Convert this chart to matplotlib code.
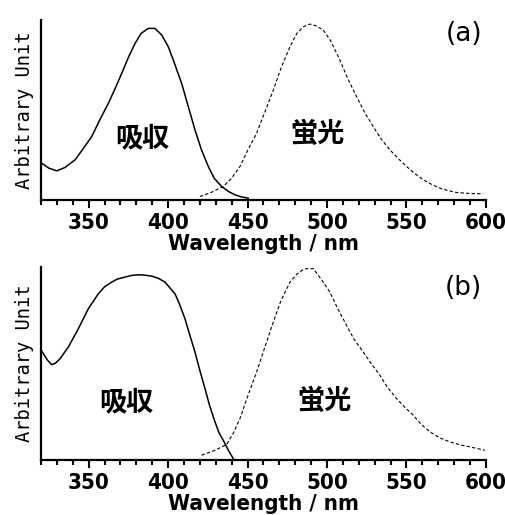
import matplotlib
matplotlib.use('Agg')
import matplotlib.pyplot as plt
from matplotlib import font_manager as fm
from matplotlib.ticker import MultipleLocator

# panel (a)
abs_a_nm = [320.4, 325, 329.9, 335, 341.4, 346, 351.9, 357, 362.4, 367, 370.8,
            375, 379.2, 383, 387.5, 391.7, 396, 400.1, 404, 408.5, 413, 416.9,
            421, 425.3, 429, 433.7, 438, 442.1, 446, 450.4]
abs_a_val = [110, 95, 87, 97, 120, 150, 190, 240, 290, 338, 380, 428, 470, 500,
             515, 515, 495, 460, 410, 350, 275, 210, 150, 100, 65, 40, 25, 15,
             9, 5]
fl_a_nm = [420, 427, 434.7, 440, 445.2, 450, 455.7, 461, 466.2, 471, 476.7,
           481, 485.1, 489.3, 493, 497.6, 502, 508.1, 513, 518.6, 524, 529.1,
           534, 539.6, 545, 550.1, 555, 560.6, 566, 571.1, 576, 581.6, 590,
           598.3]
fl_a_val = [10, 22, 40, 65, 100, 148, 200, 265, 330, 395, 460, 500, 520, 528,
            523, 510, 480, 420, 365, 310, 260, 220, 183, 150, 123, 100, 80, 60,
            46, 35, 28, 22, 19, 18]

# panel (b)
abs_b_nm = [320, 321.5, 324, 326.7, 329, 332, 337.2, 343.5, 349.8, 356.1, 360,
            364.5, 368, 372.9, 377, 381.2, 385, 389.6, 394, 398, 404.3, 407,
            410.6, 413, 416.9, 420, 423.2, 426, 429.5, 432, 435.8, 438, 441]
abs_b_val = [330, 319, 300, 286, 290, 304, 339, 394, 454, 499, 520, 534, 543,
             549, 554, 556, 555, 552, 545, 534, 499, 470, 424, 385, 324, 268,
             214, 165, 114, 82, 49, 28, 4]
fl_b_nm = [421.1, 429, 436.8, 441, 445.2, 450, 455.7, 461, 466.2, 471, 476.7,
           481, 485.1, 488, 491.4, 496, 501.8, 507, 512.3, 517, 522.8, 528,
           533.3, 538, 543.8, 549, 554.3, 559, 564.8, 571, 577.4, 584, 590,
           599.4]
fl_b_val = [14, 28, 46, 80, 124, 190, 264, 340, 414, 478, 534, 558, 572, 575,
            574, 545, 504, 452, 404, 362, 324, 288, 254, 218, 184, 158, 134,
            108, 84, 66, 54, 45, 39, 29]

# axes rect, ylim top, tag, label positions (data coords)
panels = [
    ([0.0812, 0.612, 0.881, 0.349], abs_a_nm, abs_a_val, fl_a_nm, fl_a_val,
     540, '(a)', (383.6, 186), (493.7, 198), (586, 498)),
    ([0.0812, 0.107, 0.881, 0.375], abs_b_nm, abs_b_val, fl_b_nm, fl_b_val,
     580, '(b)', (373.5, 174), (498.7, 177), (586, 516)),
]


def pick_narrow():
    names = {f.name for f in fm.fontManager.ttflist}
    if 'Liberation Sans Narrow' in names:
        return dict(family='Liberation Sans Narrow'), 16, 16
    for fam in ['DejaVu Sans', 'Noto Sans', 'Open Sans', 'Roboto']:
        fp = fm.FontProperties(family=fam, stretch='condensed', weight='bold')
        path = fm.findfont(fp, fallback_to_default=False)
        if 'ondensed' in path or 'arrow' in path:
            return dict(family=fam, stretch='condensed'), 16, 16
    return dict(family='Liberation Sans'), 14, 12


narrow, tsize, lsize = pick_narrow()
cjk = ['Noto Sans CJK JP', 'DejaVu Sans']

fig = plt.figure(figsize=(5.05, 5.15), dpi=100)
for rect, anm, aval, fnm, fval, ytop, tag, p_abs, p_fl, p_tag in panels:
    ax = fig.add_axes(rect)
    ax.plot(anm, aval, color='black', lw=1.1)
    ax.plot(fnm, fval, color='black', lw=0.8, linestyle=(0, (3, 2)))
    ax.set_xlim(320, 600)
    ax.set_ylim(0, ytop)
    for s in ['top', 'right']:
        ax.spines[s].set_visible(False)
    for s in ['left', 'bottom']:
        ax.spines[s].set_linewidth(1.6)
    ax.set_yticks([])
    ax.xaxis.set_major_locator(MultipleLocator(50))
    ax.xaxis.set_minor_locator(MultipleLocator(10))
    ax.tick_params(axis='x', which='major', length=6, width=1.5, pad=3.5)
    ax.tick_params(axis='x', which='minor', length=3.5, width=1.5)
    for lab in ax.get_xticklabels():
        lab.set(fontweight='bold', fontsize=tsize, **narrow)
    ax.set_xlabel('Wavelength / nm', fontweight='bold', fontsize=lsize,
                  **narrow)
    h = rect[3] * 515
    ax.xaxis.set_label_coords(0.5, -34 / h)
    ax.set_ylabel('Arbitrary Unit', family='DejaVu Sans Mono', fontsize=13.5,
                  labelpad=5)
    ax.text(p_abs[0], p_abs[1], '吸収', family=cjk, fontsize=19.5,
            fontweight='bold', ha='center', va='center')
    ax.text(p_fl[0], p_fl[1], '蛍光', family=cjk, fontsize=19.5,
            fontweight='bold', ha='center', va='center')
    ax.text(p_tag[0], p_tag[1], tag, family='DejaVu Sans', fontsize=19,
            ha='center', va='center')

fig.savefig('out.png', dpi=100)
